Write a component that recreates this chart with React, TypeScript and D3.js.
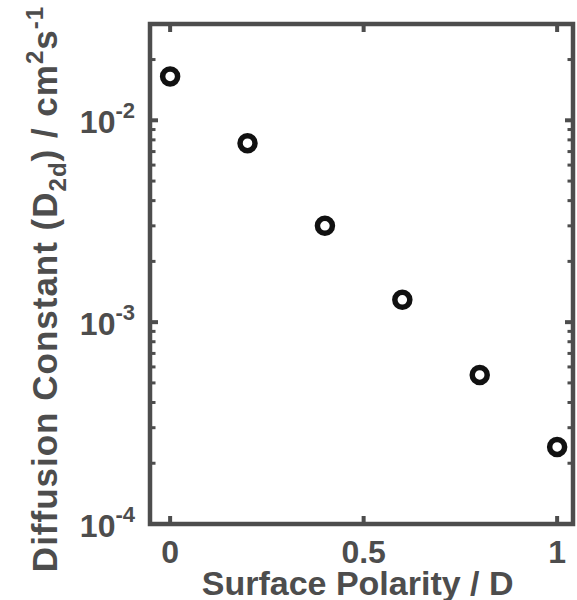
import React from "react";
import * as d3 from "d3";

const polarity = [0, 0.2, 0.4, 0.6, 0.8, 1.0];
const diffusion = [0.0165, 0.0077, 0.0030, 0.00129, 0.000548, 0.000241];
const xTicks = [0, 0.5, 1];
const xTickLabels = ["0", "0.5", "1"];
const yMajor = [1e-4, 1e-3, 1e-2];
const yExps = ["-4", "-3", "-2"];

const W = 577, H = 600;
const left = 150, right = 573, top = 24, bottom = 524;
const axisColor = "#4d4d4d";
const font = "'Liberation Sans', Arial, sans-serif";

export default function App() {
  const x = d3.scaleLinear().domain([-0.052, 1.041]).range([left, right]);
  const y = d3.scaleLog().domain([1e-4, 3e-2]).range([bottom, top]);
  const minor: number[] = [];
  for (const d of [1e-4, 1e-3, 1e-2]) {
    for (let k = 2; k <= 9; k++) {
      const v = d * k;
      if (v < 3e-2) minor.push(v);
    }
  }
  return (
    <svg width={W} height={H} style={{ position: "absolute", left: 0, top: 0 }} fontFamily={font}>
      <rect x={0} y={0} width={W} height={H} fill="white" />
      {xTicks.map((t) => (
        <g key={"xt" + t}>
          <line x1={x(t)} x2={x(t)} y1={bottom} y2={bottom - 8} stroke={axisColor} strokeWidth={4} />
          <line x1={x(t)} x2={x(t)} y1={top} y2={top + 8} stroke={axisColor} strokeWidth={4} />
        </g>
      ))}
      {yMajor.map((t) => (
        <g key={"ym" + t}>
          <line x1={left} x2={left + 8} y1={y(t)} y2={y(t)} stroke={axisColor} strokeWidth={4} />
          <line x1={right} x2={right - 8} y1={y(t)} y2={y(t)} stroke={axisColor} strokeWidth={4} />
        </g>
      ))}
      {minor.map((t) => (
        <g key={"yn" + t}>
          <line x1={left} x2={left + 5.5} y1={y(t)} y2={y(t)} stroke={axisColor} strokeWidth={3} />
          <line x1={right} x2={right - 5.5} y1={y(t)} y2={y(t)} stroke={axisColor} strokeWidth={3} />
        </g>
      ))}
      <rect x={left} y={top} width={right - left} height={bottom - top} fill="none" stroke={axisColor} strokeWidth={4.5} />
      {xTicks.map((t, i) => (
        <text key={"xl" + t} x={x(t)} y={563} textAnchor="middle" fontSize={32} fontWeight="bold" fill={axisColor}>
          {xTickLabels[i]}
        </text>
      ))}
      {yMajor.map((t, i) => (
        <text key={"yl" + t} x={135} y={y(t) + 13} textAnchor="end" fontSize={32} fontWeight="bold" fill={axisColor}>
          10<tspan dy={-15} fontSize={22}>{yExps[i]}</tspan>
        </text>
      ))}
      {polarity.map((p, i) => (
        <circle key={"pt" + i} cx={x(p)} cy={y(diffusion[i])} r={7.5} fill="none" stroke="#111" strokeWidth={5.5} />
      ))}
      <text x={x(0.5) - 6} y={595} textAnchor="middle" fontSize={34} fontWeight="bold" fill={axisColor}>
        Surface Polarity / D
      </text>
      <text transform="translate(57,289) rotate(-90)" textAnchor="middle" fontSize={35} fontWeight="bold" letterSpacing={1} fill={axisColor}>
        Diffusion Constant (D<tspan dy={9} fontSize={24}>2d</tspan><tspan dy={-9}>) / cm</tspan>
        <tspan dy={-14} fontSize={24}>2</tspan><tspan dy={14}>s</tspan><tspan dy={-14} fontSize={24}>-1</tspan>
      </text>
    </svg>
  );
}
